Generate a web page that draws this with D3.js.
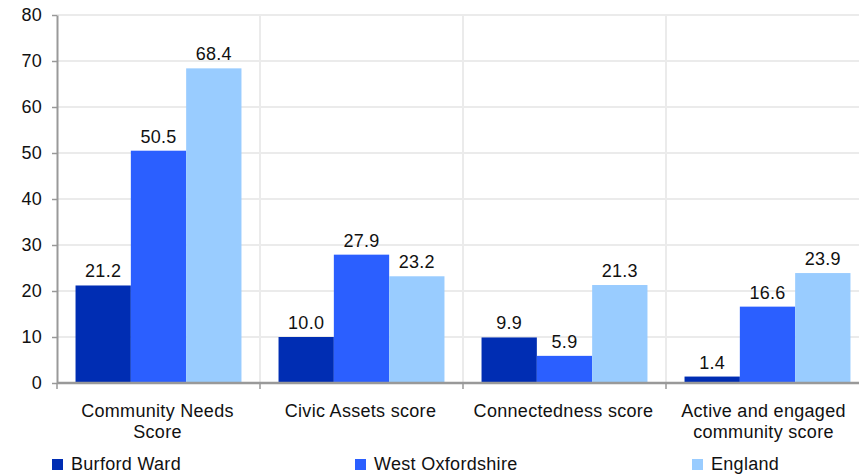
<!DOCTYPE html>
<html>
<head>
<meta charset="utf-8">
<script src="https://cdn.jsdelivr.net/npm/d3@7"></script>
<style>
  body { margin: 0; background: #fff; }
  svg { display: block; font-family: "Liberation Sans", Arial, sans-serif; }
</style>
</head>
<body>
<svg id="chart" width="859" height="475"></svg>
<script>
const categories = ['Community Needs|Score', 'Civic Assets score', 'Connectedness score', 'Active and engaged|community score'];
const series = ['Burford Ward', 'West Oxfordshire', 'England'];
const burford = [21.2, 10.0, 9.9, 1.4];
const westOxon = [50.5, 27.9, 5.9, 16.6];
const england = [68.4, 23.2, 21.3, 23.9];
const yTicks = [0, 10, 20, 30, 40, 50, 60, 70, 80];
const colors = ['#002db3', '#2b5fff', '#99ccff'];

const values = [burford, westOxon, england];

const margin = {left: 57, top: 15};
const plot_w = 812;
const plot_h = 368;
const font_size = '18px';
const letter_sp = '0.3px';

const svg = d3.select('#chart');
const g = svg.append('g').attr('transform', `translate(${margin.left}, ${margin.top})`);

const x0 = d3.scaleBand().domain(categories).range([0, plot_w]).padding(0);
const x1 = d3.scaleBand().domain(series).range([0, x0.bandwidth()]).paddingInner(0).paddingOuter(0.335);
const y = d3.scaleLinear().domain([0, 80]).range([plot_h, 0]);
const color = d3.scaleOrdinal().domain(series).range(colors);

// gridlines
g.selectAll('.hgrid')
    .data(yTicks.slice(1))
    .join('line')
    .attr('x1', 0).attr('x2', plot_w)
    .attr('y1', d => y(d)).attr('y2', d => y(d))
    .style('stroke', '#ebebeb').style('stroke-width', 2);

g.selectAll('.vgrid')
    .data(categories.slice(1))
    .join('line')
    .attr('x1', d => x0(d)).attr('x2', d => x0(d))
    .attr('y1', 0).attr('y2', plot_h)
    .style('stroke', '#ebebeb').style('stroke-width', 2);

// bars
const groups = g.selectAll('.grp')
    .data(categories)
    .join('g')
    .attr('transform', d => `translate(${x0(d)}, 0)`);

groups.selectAll('rect')
    .data((d, i) => series.map((s, j) => ({s, v: values[j][i]})))
    .join('rect')
    .attr('x', d => x1(d.s))
    .attr('width', x1.bandwidth())
    .attr('y', d => y(d.v))
    .attr('height', d => plot_h - y(d.v))
    .attr('fill', d => color(d.s));

groups.selectAll('text')
    .data((d, i) => series.map((s, j) => ({s, v: values[j][i]})))
    .join('text')
    .attr('x', d => x1(d.s) + x1.bandwidth() / 2)
    .attr('y', d => y(d.v) - 8)
    .attr('text-anchor', 'middle')
    .style('font-size', font_size)
    .style('letter-spacing', letter_sp)
    .attr('fill', '#111')
    .text(d => d.v.toFixed(1));

// y axis
const yAxis = g.append('g')
    .call(d3.axisLeft(y).tickValues(yTicks).tickSize(5).tickPadding(10).tickSizeOuter(0));
yAxis.select('.domain').attr('stroke', '#999').attr('stroke-width', 2);
yAxis.selectAll('.tick line').attr('stroke', '#999').attr('stroke-width', 1.5);
yAxis.selectAll('.tick text')
    .style('font-size', font_size)
    .style('letter-spacing', letter_sp)
    .attr('fill', '#111').attr('font-family', null);

// x axis
const xAxis = g.append('g').attr('transform', `translate(0, ${plot_h})`);
xAxis.append('line')
    .attr('x1', 0).attr('x2', plot_w)
    .attr('stroke', '#999').attr('stroke-width', 2.5);
xAxis.selectAll('.xtick')
    .data(categories.slice(1))
    .join('line')
    .attr('x1', d => x0(d)).attr('x2', d => x0(d))
    .attr('y1', 0).attr('y2', 6)
    .attr('stroke', '#999').attr('stroke-width', 1.5);
xAxis.append('line')
    .attr('x1', 0).attr('x2', 0).attr('y1', 0).attr('y2', 6)
    .attr('stroke', '#999').attr('stroke-width', 1.5);

const xl = xAxis.selectAll('.xlabel')
    .data(categories)
    .join('text')
    .attr('text-anchor', 'middle')
    .attr('x', (d, i) => x0(d) + x0.bandwidth() / 2 - (i === 3 ? 4 : 1))
    .attr('y', 34)
    .style('font-size', font_size)
    .style('letter-spacing', letter_sp)
    .attr('fill', '#111');
xl.each(function(d) {
    const lines = d.split('|');
    const t = d3.select(this);
    lines.forEach((ln, i) => {
        t.append('tspan')
            .attr('x', t.attr('x'))
            .attr('dy', i === 0 ? 0 : 21)
            .text(ln);
    });
});

// legend
const legendX = [52, 355, 692];
const legend = svg.append('g').attr('transform', 'translate(0, 459)');
const items = legend.selectAll('g')
    .data(series)
    .join('g')
    .attr('transform', (d, i) => `translate(${legendX[i]}, 0)`);
items.append('rect')
    .attr('width', 11).attr('height', 11)
    .attr('fill', d => color(d));
items.append('text')
    .attr('x', 19).attr('y', 11)
    .style('font-size', font_size)
    .style('letter-spacing', letter_sp)
    .attr('fill', '#111')
    .text(d => d);
</script>
</body>
</html>
